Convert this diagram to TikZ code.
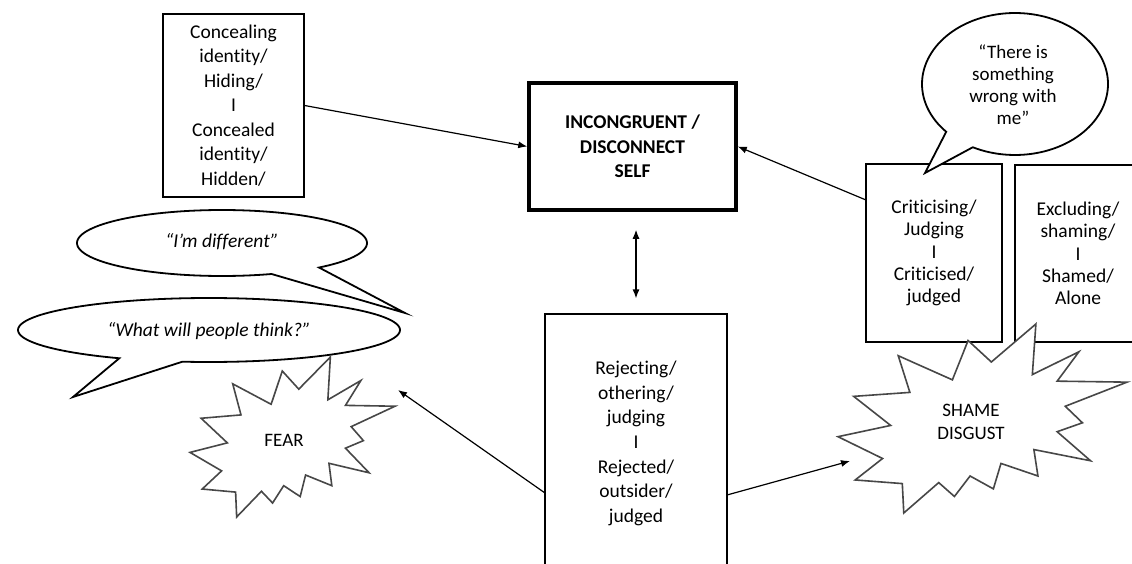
\documentclass[tikz,border=0pt]{standalone}
\usepackage{fontspec}
\setmainfont{Carlito}[Ligatures={TeX,NoCommon}]
\usetikzlibrary{arrows.meta}

% Outline of the "explosion" burst, in a 100 x 100 frame
\newcommand{\burstpath}{%
  (53.06,20.10) -- (68.47,0) -- (67.25,26.75) -- (83.37,14.69) -- (75.83,30.24) --
  (100,30.76) -- (78.63,43.53) -- (84.58,52.27) -- (75.83,56.99) -- (87.39,72.37) --
  (67.78,66.44) -- (69.18,80.42) -- (56.39,73.77) -- (53.76,87.23) -- (45.70,80.42) --
  (40.28,91.26) -- (34.85,83.91) -- (22.76,100) -- (22.25,84.44) -- (5.95,82.52) --
  (15.42,71.16) -- (0,59.62) -- (18.22,53.67) -- (5.43,38.29) -- (24.87,36.19) --
  (20.84,16.78) -- (39.58,29.55) -- (45.01,8.74) -- cycle}

\begin{document}
\begin{tikzpicture}[x=1pt,y=-1pt,
  box/.style={draw=black, line width=1.2pt, fill=white, align=center, inner sep=0pt},
  txt/.style={align=center, inner sep=0pt, text=black},
  body/.style={font=\fontsize{19.5}{24.5}\selectfont},
  tight/.style={font=\fontsize{19.5}{22.3}\selectfont},
  bubble/.style={draw=black, line width=1.8pt, fill=white, line join=miter},
  burst/.style={draw=black!72, line width=1.6pt, fill=white, line join=miter},
  arr/.style={line width=1.2pt, -{Latex[length=9pt,width=7pt]}},
  dblarr/.style={line width=1.2pt, {Latex[length=9pt,width=7pt]}-{Latex[length=9pt,width=7pt]}}
]
\useasboundingbox (0,0) rectangle (1132,564);
\clip (0,0) rectangle (1132,564);
\fill[white] (0,0) rectangle (1132,564);

% Boxes
\node[box, body, minimum width=141pt, minimum height=183pt] (conceal) at (233.5,105.5)
  {Concealing\\identity/\\Hiding/\\I\\Concealed\\identity/\\Hidden/};
\node[box, line width=3.5pt, minimum width=207pt, minimum height=127pt,
      font=\fontsize{19.5}{24.5}\selectfont\bfseries] (incong) at (632.5,146.5)
  {INCONGRUENT /\\DISCONNECT\\SELF};
\node[box, tight, minimum width=136pt, minimum height=178pt] (crit) at (934,253)
  {Criticising/\\Judging\\I\\Criticised/\\judged};
\node[box, tight, minimum width=126pt, minimum height=177pt] (excl) at (1078,253.5)
  {Excluding/\\shaming/\\I\\Shamed/\\Alone};
\node[box, font=\fontsize{19.5}{24.6}\selectfont, minimum width=182pt, minimum height=259pt] (reject) at (636,443.5)
  {Rejecting/\\othering/\\judging\\I\\Rejected/\\outsider/\\judged};

% Speech bubbles
\draw[bubble] plot[domain=70:408, samples=120] ({222+145*cos(\x)},{243+33*sin(\x)})
  -- (405,313) -- cycle;
\node[txt, font=\fontsize{19.5}{24}\selectfont\itshape] (diff) at (222,242) {“I’m different”};

\draw[bubble] plot[domain=118:458, samples=140] ({209+191*cos(\x)},{330+32*sin(\x)})
  -- (73,397) -- cycle;
\node[txt, font=\fontsize{19.5}{24}\selectfont\itshape] (think) at (209,331) {“What will people think?”};

\draw[bubble] plot[domain=137.7:477, samples=120] ({1015+93*cos(\x)},{84+71*sin(\x)})
  -- (925,173) -- cycle;
\node[txt, font=\fontsize{19}{22}\selectfont] (wrong) at (1013,85)
  {“There is\\something\\wrong with\\me”};

% Bursts
\draw[burst, shift={(190,357)}, xscale=2.05, yscale=1.60] \burstpath;
\node[txt, font=\fontsize{19}{23}\selectfont] (fear) at (284,440) {FEAR};

\draw[burst, shift={(838,324)}, xscale=2.89, yscale=1.89] \burstpath;
\node[txt, font=\fontsize{19}{23}\selectfont] (shame) at (971,421.5) {SHAME\\DISGUST};

% Connectors
\coordinate (critIn) at (866,200);
\coordinate (rejL) at (545,493);
\coordinate (fearIn) at (398,390);
\coordinate (rejR) at (727,495);
\coordinate (shameIn) at (850,461);

\draw[arr] (conceal.east) -- (incong.west);
\draw[arr] (critIn) -- (incong.east);
\draw[dblarr, shorten <=18pt, shorten >=15pt] (incong.south -| reject.north) -- (reject.north);
\draw[arr] (rejL) -- (fearIn);
\draw[arr] (rejR) -- (shameIn);
\end{tikzpicture}
\end{document}
